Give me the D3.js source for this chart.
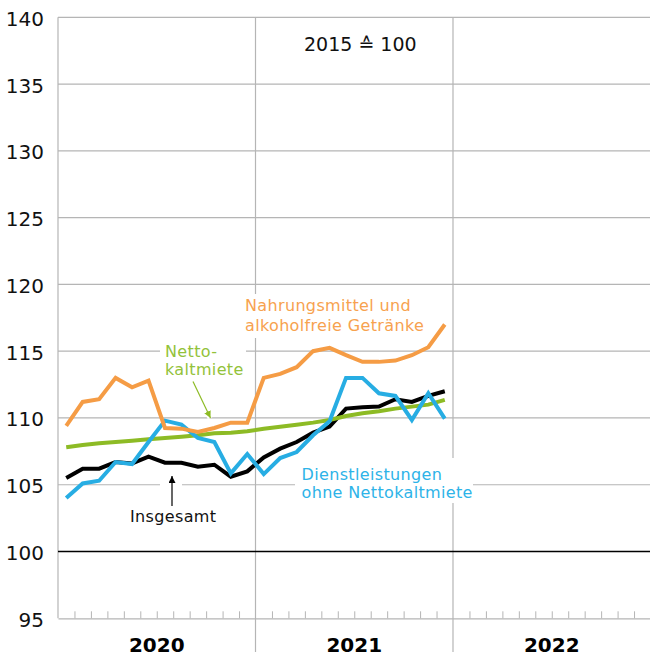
<!DOCTYPE html>
<html>
<head>
<meta charset="utf-8">
<script src="https://cdn.jsdelivr.net/npm/d3@7/dist/d3.min.js"></script>
<style>
body { margin: 0; background: #fff; }
text { font-family: "DejaVu Sans", sans-serif; }
</style>
</head>
<body>
<svg id="chart"></svg>
<script>
var width = 650, height = 659;

// months Jan 2020 .. Dec 2021, index 2015 = 100
var years = ["2020", "2021", "2022"];
var yTicks = [95, 100, 105, 110, 115, 120, 125, 130, 135, 140];
var insgesamt = [105.5, 106.2, 106.2, 106.7, 106.6, 107.1, 106.65, 106.65, 106.35, 106.5, 105.6, 106.0,
                 107.05, 107.7, 108.2, 108.9, 109.35, 110.7, 110.8, 110.85, 111.4, 111.2, 111.65, 112.0];
var nahrung = [109.4, 111.2, 111.4, 113.0, 112.3, 112.8, 109.25, 109.2, 108.95, 109.25, 109.65, 109.65,
               113.0, 113.3, 113.8, 115.0, 115.25, 114.7, 114.2, 114.2, 114.3, 114.7, 115.3, 117.0];
var dienst = [104.0, 105.1, 105.3, 106.7, 106.55, 108.2, 109.8, 109.5, 108.5, 108.2, 105.85, 107.3,
              105.8, 107.0, 107.45, 108.7, 109.75, 113.0, 113.0, 111.85, 111.65, 109.85, 111.85, 109.95];
var netto = [107.8, 107.97, 108.1, 108.2, 108.3, 108.4, 108.5, 108.6, 108.7, 108.85, 108.9, 109.0,
             109.2, 109.35, 109.5, 109.65, 109.85, 110.15, 110.35, 110.5, 110.7, 110.85, 111.0, 111.35];

var plotLeft = 58, plotRight = 650.5, plotTop = 17.3, plotBottom = 618.3;

var svg = d3.select("#chart")
    .attr("width", width)
    .attr("height", height);

var x = d3.scaleLinear().domain([0, 36]).range([plotLeft, plotRight]);
var y = d3.scaleLinear().domain([95, 140]).range([plotBottom, plotTop]);

var grid = "#b5b5b5";

// horizontal grid lines
svg.append("g").selectAll("line")
    .data(yTicks.filter(function(d) { return d > 100; }))
    .enter().append("line")
    .attr("x1", plotLeft).attr("x2", plotRight)
    .attr("y1", function(d) { return y(d); })
    .attr("y2", function(d) { return y(d); })
    .style("stroke", grid).style("stroke-width", 1.2);

// year separators, reaching down into the year labels
svg.append("g").selectAll("line")
    .data([12, 24])
    .enter().append("line")
    .attr("x1", function(d) { return x(d); })
    .attr("x2", function(d) { return x(d); })
    .attr("y1", plotTop).attr("y2", 652)
    .style("stroke", grid).style("stroke-width", 1.2);

// left axis line
svg.append("line")
    .attr("x1", plotLeft).attr("x2", plotLeft).attr("y1", plotTop).attr("y2", plotBottom)
    .style("stroke", grid).style("stroke-width", 1.2);

// x axis: monthly ticks pointing up
var monthTicks = d3.range(1, 36).filter(function(d) { return d % 12 != 0; });
var xAxisGroup = svg.append("g")
    .attr("transform", "translate(0," + plotBottom + ")")
    .call(d3.axisBottom(x).tickValues(monthTicks).tickSize(-7).tickFormat("").tickSizeOuter(0));
xAxisGroup.select(".domain").style("stroke", grid).style("stroke-width", 1.2);
xAxisGroup.selectAll(".tick line").style("stroke", grid).style("stroke-width", 1);

// year labels
svg.append("g").selectAll("text")
    .data(years)
    .enter().append("text")
    .attr("x", function(d, i) { return x(i * 12 + 6); })
    .attr("y", 651.5)
    .style("text-anchor", "middle")
    .style("font-size", "20px")
    .style("font-weight", "bold")
    .text(function(d) { return d; });

// y labels
var yAxisGroup = svg.append("g")
    .attr("transform", "translate(44,0)")
    .call(d3.axisLeft(y).tickValues(yTicks).tickSize(0).tickPadding(0));
yAxisGroup.select(".domain").remove();
yAxisGroup.selectAll("text")
    .attr("dy", "8")
    .style("font-family", "DejaVu Sans, sans-serif")
    .style("font-size", "20px")
    .style("fill", "#111");

// white boxes behind the labels
var boxes = [
    [241, 294, 192, 44],   // Nahrungsmittel
    [160, 339, 86, 42],    // Netto-kaltmiete
    [160, 478, 22, 28],    // arrow Insgesamt
    [295, 458, 178, 45]    // Dienstleistungen
];
svg.append("g").selectAll("rect")
    .data(boxes)
    .enter().append("rect")
    .attr("x", function(d) { return d[0]; })
    .attr("y", function(d) { return d[1]; })
    .attr("width", function(d) { return d[2]; })
    .attr("height", function(d) { return d[3]; })
    .style("fill", "#fff");

// 100 line
svg.append("line")
    .attr("x1", plotLeft).attr("x2", plotRight)
    .attr("y1", y(100)).attr("y2", y(100))
    .style("stroke", "#000").style("stroke-width", 1.6);

// series
var line = d3.line()
    .x(function(d, i) { return x(i + 0.5); })
    .y(function(d) { return y(d); });

var series = [
    { values: insgesamt, color: "#000000" },
    { values: netto, color: "#8dbb25" },
    { values: dienst, color: "#27ade3" },
    { values: nahrung, color: "#f59c45" }
];

svg.append("g").selectAll("path")
    .data(series)
    .enter().append("path")
    .attr("d", function(d) { return line(d.values); })
    .style("fill", "none")
    .style("stroke", function(d) { return d.color; })
    .style("stroke-width", 4)
    .style("stroke-linejoin", "miter");

// arrows
var defs = svg.append("defs");
function marker(id, color) {
    defs.append("marker")
        .attr("id", id)
        .attr("viewBox", "0 0 10 10")
        .attr("refX", 10).attr("refY", 5)
        .attr("markerWidth", 7).attr("markerHeight", 7)
        .attr("markerUnits", "userSpaceOnUse")
        .attr("orient", "auto")
        .append("path")
        .attr("d", "M0,0L10,5L0,10z")
        .style("fill", color);
}
marker("arrowGreen", "#8dbb25");
marker("arrowBlack", "#000");

svg.append("line")
    .attr("x1", 193).attr("y1", 381.5).attr("x2", 210.5).attr("y2", 418)
    .style("stroke", "#fff").style("stroke-width", 6);
svg.append("line")
    .attr("x1", 193).attr("y1", 381.5).attr("x2", 210.5).attr("y2", 418)
    .style("stroke", "#8dbb25").style("stroke-width", 1.2)
    .attr("marker-end", "url(#arrowGreen)");

svg.append("line")
    .attr("x1", 172).attr("y1", 506).attr("x2", 172).attr("y2", 476)
    .style("stroke", "#000").style("stroke-width", 1.2)
    .attr("marker-end", "url(#arrowBlack)");

// labels
function label(lines, xPos, yPos, color, lh) {
    var t = svg.append("text")
        .attr("x", xPos).attr("y", yPos)
        .style("font-size", "16px")
        .style("letter-spacing", "0.35px")
        .style("fill", color);
    lines.forEach(function(s, i) {
        t.append("tspan").attr("x", xPos).attr("dy", i == 0 ? 0 : lh).text(s);
    });
}
label(["Nahrungsmittel und", "alkoholfreie Getränke"], 245, 311, "#f7a24f", 19.5);
label(["Netto-", "kaltmiete"], 165, 356.5, "#93c23a", 18.5);
label(["Dienstleistungen", "ohne Nettokaltmiete"], 301.5, 479.5, "#2db3e8", 18.5);
label(["Insgesamt"], 130, 521.5, "#111", 18);

svg.append("text")
    .attr("x", 304).attr("y", 51)
    .style("font-size", "19px")
    .style("fill", "#111")
    .text("2015 \u2259 100");
</script>
</body>
</html>
